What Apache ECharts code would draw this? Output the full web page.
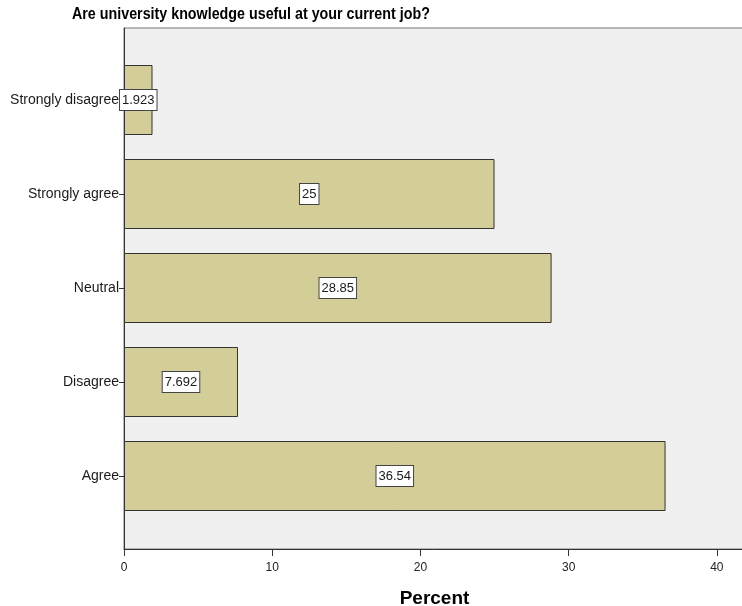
<!DOCTYPE html>
<html><head><meta charset="utf-8">
<script src="https://cdn.jsdelivr.net/npm/echarts@6/dist/echarts.min.js"></script>
<style>html,body{margin:0;padding:0;background:#fff}#c{width:742px;height:606px}</style>
</head><body><div id="c"></div>
<script>
const titleText = 'Are university knowledge useful at your current job?';
const categories = ['Agree', 'Disagree', 'Neutral', 'Strongly agree', 'Strongly disagree'];
const percentValues = [36.54, 7.692, 28.85, 25, 1.923];
const percentLabels = ['36.54', '7.692', '28.85', '25', '1.923'];
const xTicks = [0, 10, 20, 30, 40];

const chart = echarts.init(document.getElementById('c'));
const font = 'Liberation Sans, Arial, sans-serif';
chart.setOption({
  animation: false,
  graphic: [{
    type: 'text', left: 72, top: 6, scaleX: 0.84,
    style: { text: titleText, fontFamily: font, fontSize: 17, fontWeight: 'bold', fill: '#000' }
  }],
  grid: [
    { left: 124, right: -3, top: 28, bottom: 57, show: true, backgroundColor: '#f0f0f0', borderColor: '#777', borderWidth: 1, outerBoundsMode: 'none', containLabel: false },
    { left: 124, right: -3, top: 53, bottom: 83, outerBoundsMode: 'none', containLabel: false }
  ],
  xAxis: [
    {
      gridIndex: 0, type: 'value', min: 0, max: 41.9, interval: 10,
      name: 'Percent', nameLocation: 'middle', nameGap: 40,
      nameTextStyle: { fontFamily: font, fontSize: 19, fontWeight: 'bold', color: '#000' },
      axisLine: { show: true, lineStyle: { color: '#333', width: 1 } },
      axisTick: { show: true, length: 7, lineStyle: { color: '#333' }, customValues: xTicks },
      axisLabel: { fontFamily: font, fontSize: 12, color: '#222', margin: 13, customValues: xTicks },
      splitLine: { show: false }
    },
    { gridIndex: 1, type: 'value', min: 0, max: 41.9, show: false }
  ],
  yAxis: [
    { gridIndex: 0, type: 'value', min: 0, max: 1, axisLine: { show: true, lineStyle: { color: '#333' } },
      axisTick: { show: false }, axisLabel: { show: false }, splitLine: { show: false } },
    {
      gridIndex: 1, type: 'category', data: categories,
      axisLine: { show: false },
      axisTick: { show: true, alignWithLabel: true, length: 5, lineStyle: { color: '#333' } },
      axisLabel: { fontFamily: font, fontSize: 14, color: '#1a1a1a', margin: 5 }
    }
  ],
  series: [{
    type: 'bar', xAxisIndex: 1, yAxisIndex: 1,
    data: percentValues, barWidth: 70,
    itemStyle: { color: '#d3ce97', borderColor: '#333', borderWidth: 1 },
    label: {
      show: true, position: 'inside',
      formatter: p => percentLabels[p.dataIndex],
      fontFamily: font, fontSize: 13, color: '#1a1a1a',
      backgroundColor: '#fff', borderColor: '#444', borderWidth: 1, padding: [4, 2, 3, 2]
    },
    z: 3
  }]
});
</script></body></html>
